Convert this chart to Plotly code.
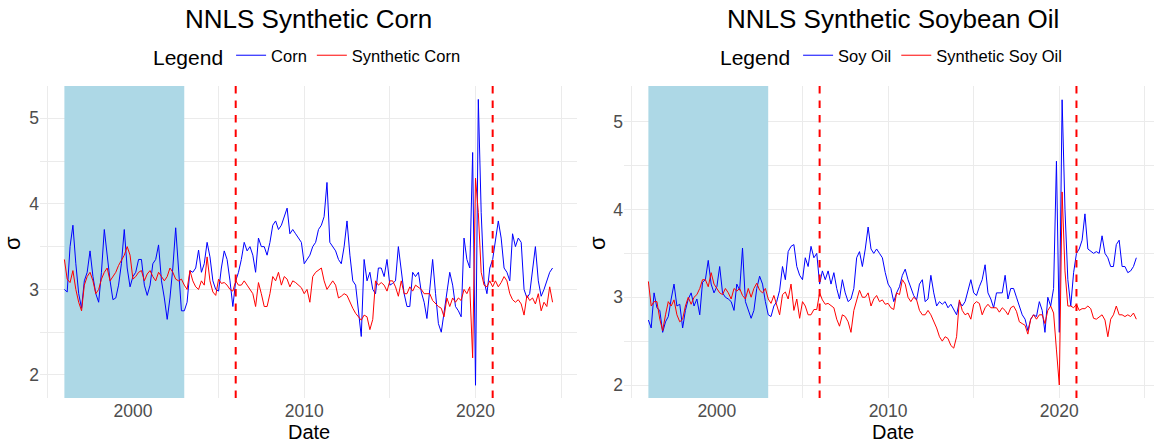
import pandas as pd
import plotly.graph_objects as go

# ---------------- data (bimonthly, Jan 1996 - Jul 2024) ----------------
start_date = "1996-01-01"
n_points = 172

corn = [
    3.0, 2.97, 3.5, 3.75, 3.3, 2.95, 2.78, 3.1, 3.2, 3.45,
    3.15, 2.95, 2.85, 3.2, 3.7, 3.4, 3.1, 2.88, 2.9, 3.05,
    3.3, 3.7, 3.25, 3.03, 3.15, 3.2, 3.35, 3.35, 3.05, 2.93,
    3.05, 3.3, 3.35, 3.52, 3.1, 2.9, 2.65, 2.9, 3.25, 3.72,
    3.2, 2.75, 2.75, 2.85,
    3.22, 3.2, 3.25, 3.46, 3.2, 3.3, 3.55, 3.38, 3.1, 3.0,
    2.98, 3.25, 3.45, 3.35, 3.1, 2.8, 3.1, 3.2, 3.35, 3.55,
    3.45, 3.5, 3.4, 3.2, 3.6, 3.5, 3.5, 3.4, 3.55, 3.75,
    3.8, 3.7, 3.75, 3.85, 3.95, 3.65, 3.7, 3.65, 3.6, 3.55,
    3.3, 3.35, 3.4, 3.5, 3.55, 3.7, 3.75, 3.85, 4.25, 3.55,
    3.5, 3.45, 3.35, 3.3, 3.5, 3.8, 3.4, 3.1, 3.05, 2.75,
    2.45, 3.35, 3.1, 3.2, 3.0, 2.95, 3.25, 3.25, 3.15, 3.35,
    3.05, 3.07, 3.1, 3.5, 3.25, 2.95, 2.8, 2.8, 3.2, 3.15,
    3.2, 2.97, 2.85, 2.66, 3.0, 3.35, 2.95, 2.6, 2.5, 2.75,
    3.0, 3.2, 3.05, 2.8, 2.75, 2.68, 3.6, 3.35, 3.25, 4.6,
    1.88, 5.22, 3.9, 3.1, 2.95, 3.25, 3.35, 3.6, 3.8, 3.6,
    3.25, 3.2, 3.1, 3.65, 3.5, 3.6, 3.55, 3.0, 2.9, 2.95,
    3.25, 3.5, 3.1, 2.92, 3.0, 3.1, 3.2, 3.25,
]

synthetic_corn = [
    3.35, 3.12, 3.08, 3.22, 3.0, 2.85, 2.75, 3.05, 3.15, 3.2,
    3.1, 2.95, 3.0, 3.12, 3.2, 3.25, 3.1, 3.15, 3.2, 3.28,
    3.35, 3.4, 3.5, 3.4, 3.12, 3.15, 3.2, 3.22, 3.1, 3.18,
    3.22, 3.15, 3.1, 3.2, 3.15, 3.1, 3.15, 3.25, 3.2, 3.12,
    3.1, 3.12, 3.05, 3.0,
    3.22, 3.1, 3.03, 3.0, 3.1, 3.05, 3.38, 3.1, 2.97, 2.93,
    3.12, 3.07, 3.08, 3.05, 3.0, 2.98, 3.1, 3.05, 3.05, 3.1,
    3.05, 3.0, 2.95, 2.8, 3.08, 2.95, 2.8, 2.8, 2.95, 3.15,
    3.1, 3.2, 3.05, 3.15, 3.12, 3.03, 3.1, 3.08, 3.05, 3.02,
    2.95, 3.0, 2.85, 3.15, 3.2, 3.23, 3.25, 3.1, 3.0, 3.05,
    3.1, 3.05, 2.9, 2.92, 2.95, 2.93, 2.85, 2.78, 2.72, 2.68,
    2.64, 2.7, 2.68, 2.53, 2.65, 3.1, 3.05, 3.08, 3.05, 2.98,
    3.1, 3.1, 3.03, 2.92, 3.1, 2.95, 2.95, 3.03, 2.98, 3.05,
    3.02, 3.0, 2.95, 2.95, 2.95, 2.87, 2.83, 2.8, 2.78, 2.68,
    2.9, 2.8, 2.9, 2.85, 2.9, 2.87, 3.0, 2.95, 3.03, 2.2,
    4.3, 3.9, 3.2, 3.05, 3.03, 3.1, 3.03, 3.1, 3.03, 3.08,
    3.15, 3.1, 2.95, 2.88, 2.85, 2.88, 2.83, 2.7, 2.93, 2.87,
    2.9, 2.83, 2.95, 2.75, 2.85, 2.8, 3.03, 2.85,
]

soy_oil = [
    2.74, 2.65, 3.05, 2.88, 2.85, 2.6, 2.72, 2.78, 2.98, 3.15,
    2.9, 2.92, 2.65, 2.85, 2.98, 3.05, 2.9, 2.98, 2.8, 3.17,
    3.2, 3.42, 3.15, 3.05, 3.12, 3.35, 3.05, 3.0, 2.98, 2.95,
    2.85, 3.15, 3.08, 3.56, 2.95, 2.85, 2.76, 2.85, 3.1, 3.24,
    3.15, 2.95, 2.8, 2.78, 2.9, 2.95, 3.08, 3.35,
    3.2, 3.52, 3.58, 3.6, 3.35, 3.25, 3.2, 3.45, 3.35, 3.58,
    3.45, 3.5, 3.15, 3.3, 3.2, 3.3, 3.15, 3.28, 3.1, 2.98,
    3.2, 3.05, 2.95, 2.98, 3.1, 3.45, 3.52, 3.35, 3.55, 3.8,
    3.55, 3.5, 3.55, 3.5, 3.45, 3.28, 3.15, 3.1, 2.95, 3.05,
    3.12, 3.25, 3.32, 3.2, 3.1, 3.02, 2.97, 3.15, 3.2, 2.95,
    2.98, 3.25, 3.05, 2.9, 2.95, 2.92, 2.95, 2.88, 2.92, 2.85,
    2.8, 2.95, 2.9, 2.95, 3.09, 3.2,
    3.05, 3.02, 3.12, 3.2, 3.37, 3.05, 2.98, 2.88, 3.05, 3.05,
    3.05, 3.25, 2.98, 3.1, 3.1, 3.0, 2.9, 2.8, 2.75, 2.62,
    2.75, 2.8, 2.78, 2.95, 2.85, 2.6, 3.0, 2.9, 3.1, 4.55,
    2.6, 5.25, 4.0, 3.2, 2.9, 3.28, 3.5, 3.55, 3.65, 3.95,
    3.55, 3.52, 3.5, 3.52, 3.5, 3.7, 3.5, 3.45, 3.35, 3.35,
    3.6, 3.65, 3.35, 3.35, 3.28, 3.3, 3.35, 3.45,
]

synthetic_soy_oil = [
    3.18, 2.9, 2.95, 2.95, 2.75, 2.62, 2.8, 2.95, 2.9, 2.97,
    2.8, 2.72, 2.75, 2.9, 3.0, 2.92, 3.0, 3.03, 3.1, 3.2,
    3.2, 3.12, 3.28, 3.15, 3.1, 3.05, 3.03, 3.1, 3.05, 2.98,
    3.1, 3.07, 3.1, 3.02, 2.98, 3.1, 3.0, 3.1, 3.16, 3.08,
    3.05, 3.1, 2.98, 2.93, 3.02, 2.9, 2.8, 3.03,
    3.06, 2.98, 3.15, 2.85, 2.98, 2.76, 2.95, 2.9, 2.8, 2.8,
    2.86, 2.86, 3.05, 2.97, 2.92, 2.93, 2.9, 2.88, 2.75, 2.67,
    2.8, 2.78, 2.72, 2.6, 2.85, 2.98, 3.08, 3.0, 3.0, 3.05,
    2.9, 2.98, 3.02, 2.95, 2.97, 2.92, 2.93, 2.88, 2.86, 3.05,
    3.03, 3.2, 3.15, 3.0, 2.95, 3.0, 2.97, 2.85, 2.8, 2.8,
    2.85, 2.8, 2.73, 2.65, 2.55, 2.5, 2.55, 2.53, 2.45, 2.42,
    2.55, 2.97, 2.85, 2.8, 2.82, 2.75,
    2.92, 2.95, 2.93, 2.8, 2.88, 2.92, 2.88, 2.88, 2.88, 2.83,
    2.88, 2.85, 2.8, 2.88, 2.9, 2.84, 2.72, 2.7, 2.68, 2.58,
    2.75, 2.8, 2.75, 2.8, 2.8, 2.7, 2.85, 2.9, 2.82, 2.4,
    2.0, 4.2, 3.3, 2.9, 2.9, 2.88, 2.92, 2.85, 2.87, 2.87,
    2.9, 2.87, 2.76, 2.75, 2.78, 2.8, 2.74, 2.55, 2.75, 2.8,
    2.9, 2.8, 2.8, 2.78, 2.8, 2.78, 2.82, 2.75,
]

shade_period = ["1996-01-01", "2002-12-31"]
event_dates = ["2006-01-01", "2021-01-01"]
titles = ["NNLS Synthetic Corn", "NNLS Synthetic Soybean Oil"]
series_names = [["Corn", "Synthetic Corn"], ["Soy Oil", "Synthetic Soy Oil"]]

dates = pd.date_range(start_date, periods=n_points, freq="2MS")

# ---------------- layout helpers ----------------
W, H = 1154, 444
FONT = "Liberation Sans, Arial, Helvetica, sans-serif"
BLUE, RED = "#0000FF", "#FF0000"
GRID = "#EBEBEB"
TICK = "#4D4D4D"


def fx(p):
    return p / W


def fy(p):
    return 1 - p / H


ydom = [fy(398), fy(86)]
xdoms = [[fx(40), fx(577)], [fx(624), 1.0]]
xranges = [["1994-07-30", "2025-12-04"], ["1994-07-30", "2025-07-13"]]
yranges = [[1.731, 5.377], [1.852, 5.407]]
centers = [308.5, 892.5]
sigma_x = [13, 598]

fig = go.Figure()

panels = [
    dict(vals=(corn, synthetic_corn), names=series_names[0], legend="legend",
         xa="x", ya="y", yr=yranges[0]),
    dict(vals=(soy_oil, synthetic_soy_oil), names=series_names[1], legend="legend2",
         xa="x2", ya="y2", yr=yranges[1]),
]

for p in panels:
    # shaded period (drawn as a filled trace so it sits above the grid)
    fig.add_trace(go.Scatter(
        x=[shade_period[0], shade_period[0], shade_period[1], shade_period[1]],
        y=[p["yr"][0], p["yr"][1], p["yr"][1], p["yr"][0]],
        mode="lines", fill="toself", fillcolor="#ADD8E6",
        line=dict(width=0, color="#ADD8E6"), hoverinfo="skip", showlegend=False,
        xaxis=p["xa"], yaxis=p["ya"],
    ))
    for vals, name, col in zip(p["vals"], p["names"], (BLUE, RED)):
        fig.add_trace(go.Scatter(
            x=dates, y=vals, mode="lines", name=name,
            line=dict(color=col, width=1),
            xaxis=p["xa"], yaxis=p["ya"], legend=p["legend"],
        ))

common_x = dict(
    type="date", showgrid=True, gridcolor=GRID, gridwidth=1,
    dtick="M120", tick0="2000-01-01", tickformat="%Y",
    minor=dict(showgrid=True, dtick="M60", tick0="1995-01-01", gridcolor=GRID, gridwidth=1),
    showline=False, zeroline=False, ticks="", automargin=False,
    tickfont=dict(family=FONT, size=17.5, color=TICK),
)
common_y = dict(
    showgrid=True, gridcolor=GRID, gridwidth=1, dtick=1, tick0=0,
    minor=dict(showgrid=True, dtick=0.5, gridcolor=GRID, gridwidth=1),
    showline=False, zeroline=False, ticks="", automargin=False,
    tickfont=dict(family=FONT, size=17.5, color=TICK),
)

fig.update_layout(
    xaxis=dict(domain=xdoms[0], range=xranges[0], anchor="y", **common_x),
    yaxis=dict(domain=ydom, range=yranges[0], anchor="x", **common_y),
    xaxis2=dict(domain=xdoms[1], range=xranges[1], anchor="y2", **common_x),
    yaxis2=dict(domain=ydom, range=yranges[1], anchor="x2", **common_y),
)

shapes = []
for xa, ya in (("x", "y"), ("x2", "y2")):
    for d in event_dates:
        shapes.append(dict(type="line", xref=xa, yref="paper",
                           x0=d, x1=d, y0=ydom[0], y1=ydom[1],
                           line=dict(color=RED, width=2, dash="7.5px,7px"),
                           layer="above"))

annotations = []
for i in range(2):
    annotations.append(dict(text=titles[i], x=fx(centers[i]), y=fy(19), xref="paper",
                            yref="paper", xanchor="center", yanchor="middle",
                            showarrow=False, font=dict(family=FONT, size=26, color="black")))
    annotations.append(dict(text="Date", x=fx(centers[i]), y=fy(432), xref="paper",
                            yref="paper", xanchor="center", yanchor="middle",
                            showarrow=False, font=dict(family=FONT, size=20, color="black")))
    annotations.append(dict(text="σ", x=fx(sigma_x[i]), y=fy(243), xref="paper",
                            yref="paper", xanchor="center", yanchor="middle",
                            textangle=-90, showarrow=False,
                            font=dict(family=FONT, size=22, color="black")))

legend_common = dict(
    orientation="h", xanchor="center", yanchor="middle", y=fy(57),
    bgcolor="rgba(0,0,0,0)", font=dict(family=FONT, size=16.5, color="black"),
    title=dict(text="Legend", side="left", font=dict(family=FONT, size=21, color="black")),
    itemwidth=30, tracegroupgap=0,
)

fig.update_layout(
    width=W, height=H,
    margin=dict(l=0, r=0, t=0, b=0, autoexpand=False),
    paper_bgcolor="white", plot_bgcolor="white",
    font=dict(family=FONT),
    shapes=shapes, annotations=annotations,
    showlegend=True,
    legend=dict(x=fx(centers[0]), **legend_common),
    legend2=dict(x=fx(centers[1]), **legend_common),
)

fig.write_html(
    "out.html",
    config={"displayModeBar": False},
    post_script="document.body.style.margin='0';document.body.style.overflow='hidden';",
)
